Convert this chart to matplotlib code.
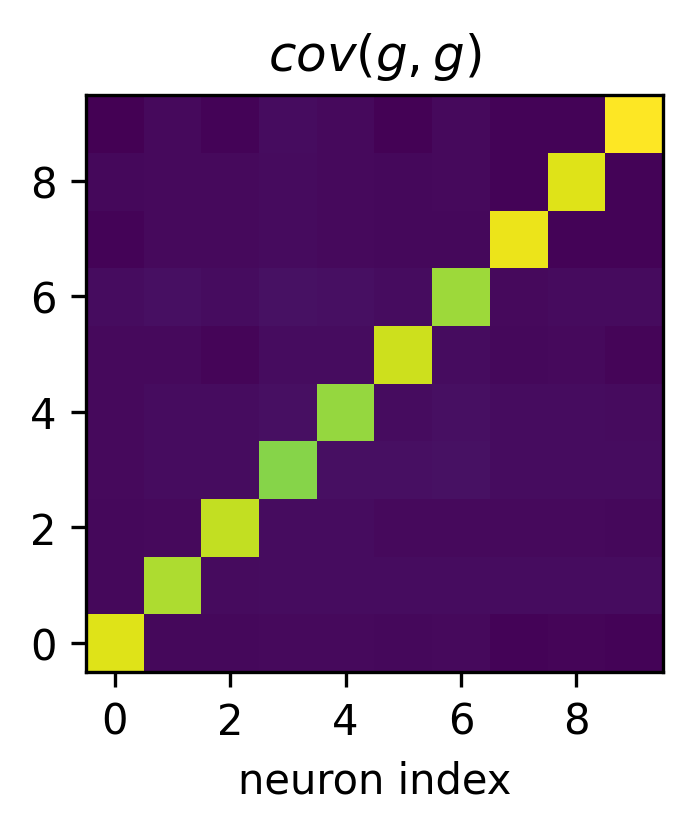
import numpy as np
import matplotlib
matplotlib.use("Agg")
import matplotlib.pyplot as plt

# covariance matrix of g (rows = y index from bottom, cols = x index)
cov_rows = [
    [0.95, 0.02, 0.02, 0.025, 0.025, 0.02, 0.025, 0.01, 0.015, 0.01],
    [0.02, 0.875, 0.03, 0.035, 0.035, 0.035, 0.035, 0.035, 0.035, 0.035],
    [0.02, 0.025, 0.91, 0.035, 0.035, 0.025, 0.025, 0.025, 0.025, 0.02],
    [0.025, 0.035, 0.035, 0.82, 0.04, 0.04, 0.045, 0.035, 0.035, 0.035],
    [0.025, 0.035, 0.035, 0.04, 0.84, 0.035, 0.04, 0.035, 0.035, 0.03],
    [0.025, 0.025, 0.015, 0.035, 0.035, 0.925, 0.035, 0.02, 0.025, 0.015],
    [0.035, 0.04, 0.035, 0.045, 0.04, 0.035, 0.855, 0.025, 0.03, 0.03],
    [0.01, 0.025, 0.025, 0.03, 0.025, 0.02, 0.02, 0.97, 0.01, 0.01],
    [0.02, 0.025, 0.025, 0.03, 0.025, 0.02, 0.025, 0.01, 0.95, 0.01],
    [0.00, 0.025, 0.01, 0.035, 0.025, 0.005, 0.025, 0.01, 0.01, 1.00],
]
cov = np.array(cov_rows)

fig = plt.figure(figsize=(2.31, 2.76), dpi=300)
ax = fig.add_axes([0.1241, 0.1872, 0.8326, 0.698])
ax.imshow(cov, cmap="viridis", origin="lower", interpolation="nearest")
ax.set_title("$cov(g, g)$", fontsize=12)
ax.set_xlabel("neuron index")
ax.set_xticks([0, 2, 4, 6, 8])
ax.set_yticks([0, 2, 4, 6, 8])

fig.savefig("out.png", dpi=300)
